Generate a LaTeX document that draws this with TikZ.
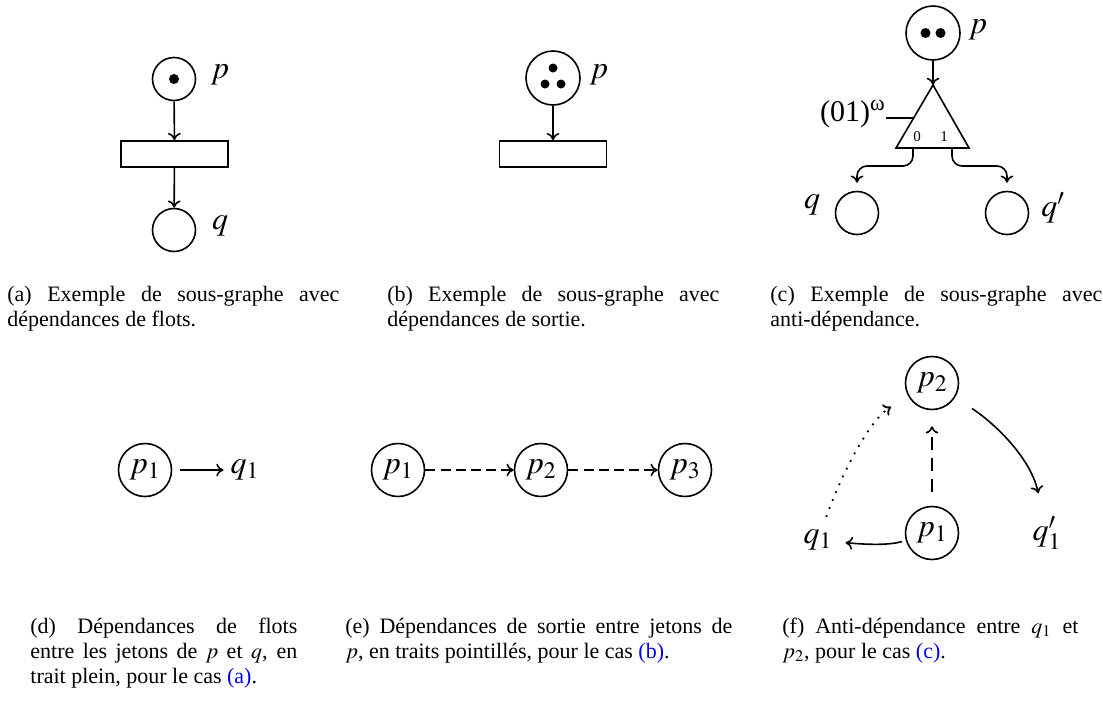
\documentclass[tikz,border=0pt]{standalone}
\usepackage{mathptmx}
\usepackage{fontspec}
\setmainfont{Liberation Serif}
\usetikzlibrary{calc,arrows.meta}
\definecolor{refblue}{rgb}{0,0,1}

\begin{document}
\begin{tikzpicture}[x=0.5pt,y=-0.5pt,
    place/.style={circle,draw,line width=0.8pt,minimum size=21.5pt,inner sep=0pt},
    bigplace/.style={place,minimum size=27pt},
    midplace/.style={place,minimum size=26.5pt,font=\fontsize{16}{18}\selectfont},
    token/.style={circle,fill,inner sep=0pt,minimum size=5pt},
    trans/.style={rectangle,draw,line width=0.8pt,minimum width=53.5pt,minimum height=13pt,inner sep=0pt},
    arc/.style={-{To[length=3.6pt,width=6.4pt]},line width=0.8pt},
    dasharc/.style={arc,dash pattern=on 5pt off 2.6pt},
    dotarc/.style={arc,line width=0.9pt,dash pattern=on 0.9pt off 3.4pt},
    biglabel/.style={font=\fontsize{16}{18}\selectfont},
    tinylabel/.style={font=\fontsize{7.5}{8}\selectfont,inner sep=0pt},
    capt/.style={anchor=base west,inner sep=0pt,align=justify,font=\fontsize{11}{12.5}\selectfont}]
  \useasboundingbox (0,0) rectangle (1103,702);

  % (a) flow
  \node[place] (pa) at (174,79) {};
  \node[token] (pa-tok) at (pa) {};
  \node[biglabel] (pa-lab) at (220,75) {$p$};
  \node[trans] (ta) at (174.5,154) {};
  \node[place] (qa) at (174,230) {};
  \node[biglabel] (qa-lab) at (220,226) {$q$};
  \draw[arc] (pa) -- (ta);
  \draw[arc] (ta) -- (qa);

  % (b) output
  \node[bigplace] (pb) at (553,78) {};
  \node[token,minimum size=4.5pt] (pb-tok1) at (553,68) {};
  \node[token,minimum size=4.5pt] (pb-tok2) at (545,84) {};
  \node[token,minimum size=4.5pt] (pb-tok3) at (561,84) {};
  \node[biglabel] (pb-lab) at (599,75) {$p$};
  \node[trans] (tb) at (553,154) {};
  \draw[arc] (pb) -- (tb);

  % (c) anti
  \node[bigplace] (pc) at (933,33) {};
  \node[token] (pc-tok1) at (925.5,33) {};
  \node[token] (pc-tok2) at (940.5,33) {};
  \node[biglabel] (pc-lab) at (978,30) {$p$};
  \coordinate (apex) at (933,85);
  \coordinate (bl) at (896,148);
  \coordinate (br) at (969,148);
  \draw[line width=0.8pt] (apex) -- (bl) -- (br) -- cycle;
  \draw[arc] (pc) -- (apex);
  \node[font=\fontsize{15}{17}\selectfont,inner sep=0pt] (omega) at (853,114) {(01)\textsuperscript{ω}};
  \coordinate (tside) at (913,118);
  \draw[line width=0.8pt] (omega.east |- tside) -- (tside);
  \node[tinylabel] (zero) at (917,137) {0};
  \node[tinylabel] (one) at (944,137) {1};
  \coordinate (out0) at (913,148);
  \coordinate (out1) at (952,148);
  \node[place] (qc) at (857,213) {};
  \node[place] (qpc) at (1007,213) {};
  \coordinate (mid0) at (857,166);
  \coordinate (mid1) at (1007,166);
  \draw[arc,rounded corners=5pt,shorten >=4pt] (out0) |- (mid0) -- (qc);
  \draw[arc,rounded corners=5pt,shorten >=4pt] (out1) |- (mid1) -- (qpc);
  \node[biglabel] (qc-lab) at (812,205) {$q$};
  \node[biglabel] (qpc-lab) at (1053,208) {$q'$};

  % top captions
  \node[capt,text width=166pt] (capa) at (7,301) {(a) Exemple de sous-graphe avec\linebreak d\'ependances de flots.};
  \node[capt,text width=166pt] (capb) at (387,301) {(b) Exemple de sous-graphe avec\linebreak d\'ependances de sortie.};
  \node[capt,text width=166pt] (capc) at (770,301) {(c) Exemple de sous-graphe avec\linebreak anti-d\'ependance.};

  % (d) flow dependences
  \node[midplace] (pd1) at (145,470) {$p_1$};
  \node[biglabel] (qd1) at (245,470) {$q_1$};
  \draw[arc,shorten <=4pt] (pd1) -- (qd1);

  % (e) output dependences
  \node[midplace] (pe1) at (398,470) {$p_1$};
  \node[midplace] (pe2) at (541,470) {$p_2$};
  \node[midplace] (pe3) at (685,470) {$p_3$};
  \draw[dasharc] (pe1) -- (pe2);
  \draw[dasharc] (pe2) -- (pe3);

  % (f) anti-dependence
  \node[midplace] (pf2) at (932,383) {$p_2$};
  \node[midplace] (pf1) at (932,533) {$p_1$};
  \node[biglabel] (qf1) at (818,540) {$q_1$};
  \node[biglabel] (qf1p) at (1047,533) {$q'_1$};
  \draw[arc,dash pattern=on 6.5pt off 4pt,shorten <=7pt,shorten >=8pt] (pf1) -- (pf2);
  \draw[arc,shorten <=10pt,shorten >=8pt] (pf2) .. controls (990,420) and (1030,455) .. (qf1p);
  \draw[dotarc,shorten <=3pt,shorten >=10pt] (qf1) .. controls (845,465) and (872,418) .. (pf2);
  \draw[arc,shorten <=2pt,shorten >=3pt] (pf1) .. controls (890,545) and (870,545) .. (qf1);

  % bottom captions
  \node[capt,text width=133.5pt] (capd) at (30,633) {(d) D\'ependances de flots\linebreak entre les jetons de $p$ et $q$, en\linebreak trait plein, pour le cas \textcolor{refblue}{(a)}.};
  \node[capt,text width=193.5pt] (cape) at (345,633) {(e) D\'ependances de sortie entre jetons de\linebreak $p$, en traits pointill\'es, pour le cas \textcolor{refblue}{(b)}.};
  \node[capt,text width=148pt] (capf) at (782,633) {(f) Anti-d\'ependance entre $q_1$ et\linebreak $p_2$, pour le cas \textcolor{refblue}{(c)}.};
\end{tikzpicture}
\end{document}
